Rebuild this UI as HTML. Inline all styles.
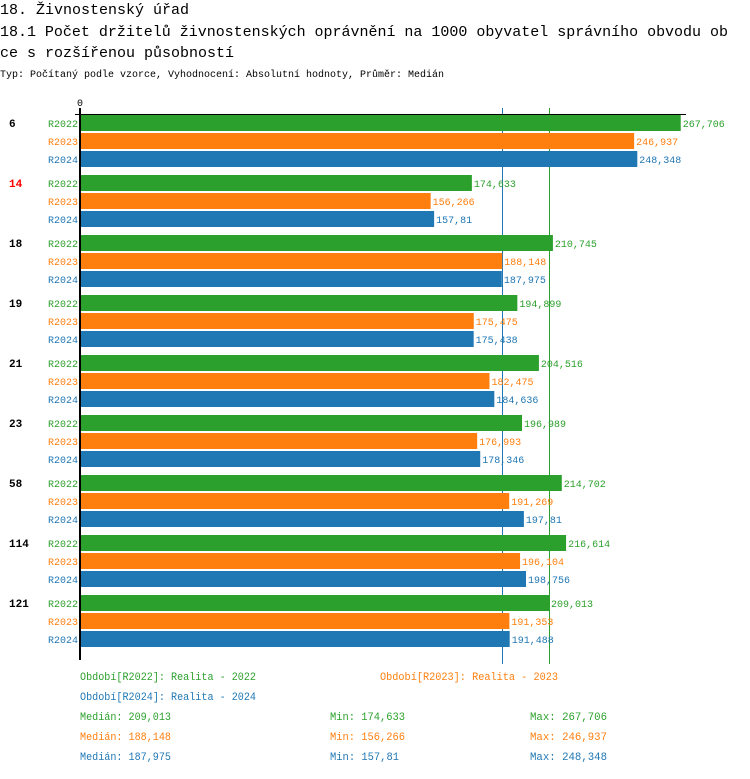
<!DOCTYPE html>
<html><head><meta charset="utf-8"><style>
body{margin:0;background:#fff}
svg text{font-family:"Liberation Mono","DejaVu Sans Mono",monospace}
</style></head><body>
<svg width="750" height="774" xmlns="http://www.w3.org/2000/svg">
<text x="0" y="14" font-size="15">18. Živnostenský úřad</text>
<text x="0" y="36" font-size="15" textLength="728">18.1 Počet držitelů živnostenských oprávnění na 1000 obyvatel správního obvodu ob</text>
<text x="0" y="57" font-size="15">ce s rozšířenou působností</text>
<text x="0" y="77" font-size="10" textLength="444">Typ: Počítaný podle vzorce, Vyhodnocení: Absolutní hodnoty, Průměr: Medián</text>
<g id="medians"></g>
<g id="plot"></g>
<g id="legend"></g>
</svg>
<script>
const categories=["6","14","18","19","21","23","58","114","121"];
const highlighted=["14"];
const seriesNames=["R2022","R2023","R2024"];
const r2022=[267.706,174.633,210.745,194.899,204.516,196.989,214.702,216.614,209.013];
const r2023=[246.937,156.266,188.148,175.475,182.475,176.993,191.269,196.104,191.353];
const r2024=[248.348,157.81,187.975,175.438,184.636,178.346,197.81,198.756,191.488];
const medians=[209.013,188.148,187.975];
const mins=[174.633,156.266,157.81];
const maxs=[267.706,246.937,248.348];
const colors=["#2ca02c","#ff7f0e","#1f77b4"];
const NS="http://www.w3.org/2000/svg";
const x0=80,k=2.244,top0=115,pitch=60,bh=16,gap=18;
const xs=v=>x0+v*k;
const fmt=v=>String(v).replace('.',',');
const plot=document.getElementById('plot');
const med=document.getElementById('medians');
function mk(tag,attrs,parent){const e=document.createElementNS(NS,tag);for(const a in attrs)e.setAttribute(a,attrs[a]);parent.appendChild(e);return e;}
const series=[r2022,r2023,r2024];
const bottom=top0+categories.length*pitch-5;
[1,2,0].forEach(j=>{
  const xx=Math.round(xs(medians[j]))+0.5;
  const m=mk('line',{x1:xx,x2:xx,y1:108,y2:bottom+14,stroke:colors[j],'stroke-width':1},med);
  
  
});
categories.forEach((c,i)=>{
  const gy=top0+i*pitch;
  const t=mk('text',{x:9,y:gy+12,'font-size':11,'font-weight':'bold',fill:highlighted.includes(c)?'#ff0000':'#000'},plot);
  t.textContent=c;
  
  
  series.forEach((s,j)=>{
    const y=gy+j*gap;
    const r=mk('rect',{x:x0,y:y,width:xs(s[i])-x0,height:bh,fill:colors[j]},plot);
    
    
    const l=mk('text',{x:78,y:y+12,'font-size':10,'text-anchor':'end',fill:colors[j]},plot);
    l.textContent=seriesNames[j];
    
    
    const v=mk('text',{x:xs(s[i])+2,y:y+12,'font-size':10,fill:colors[j]},plot);
    v.textContent=fmt(s[i]);
    
    
  });
});
const ax=mk('line',{x1:x0,x2:x0,y1:108,y2:bottom+10,stroke:'#000','stroke-width':2},plot);


const tx=mk('line',{x1:75,x2:686,y1:114.5,y2:114.5,stroke:'#000','stroke-width':1},plot);


const z=mk('text',{x:x0,y:106,'font-size':10,'text-anchor':'middle'},plot);
z.textContent='0';


const lg=document.getElementById('legend');
function lt(x,y,s,col,w,name){const t=mk('text',{x:x,y:y,'font-size':11,fill:col,textLength:w,lengthAdjust:'spacingAndGlyphs'},lg);t.textContent=s;}
lt(80,680,'Období[R2022]: Realita - 2022',colors[0],176,'legend-r2022');
lt(380,680,'Období[R2023]: Realita - 2023',colors[1],178,'legend-r2023');
lt(80,700,'Období[R2024]: Realita - 2024',colors[2],176,'legend-r2024');
[0,1,2].forEach(j=>{
  const y=720+j*20;
  const ms=fmt(medians[j]),mn=fmt(mins[j]),mx=fmt(maxs[j]);
  lt(80,y,'Medián: '+ms,colors[j],49+ms.length*6,'median-stat');
  lt(330,y,'Min: '+mn,colors[j],33+mn.length*6,'min-stat');
  lt(530,y,'Max: '+mx,colors[j],35+mx.length*6,'max-stat');
});
</script>
</body></html>
